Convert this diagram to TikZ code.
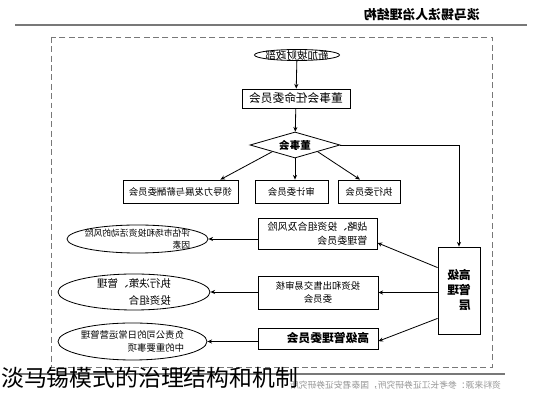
\documentclass[tikz,border=0pt]{standalone}
\usepackage{fontspec}
\setmainfont{Noto Sans CJK SC}
\usetikzlibrary{arrows.meta,shapes.geometric}
\definecolor{framegray}{RGB}{120,120,120}
\definecolor{srcgray}{RGB}{150,150,150}

\begin{document}
\begin{tikzpicture}[x=0.03cm, y=-0.03cm, font=\fontsize{8}{11}\selectfont,
      bx/.style={rectangle, draw, line width=0.7pt, inner sep=1pt},
      ov/.style={ellipse, draw, line width=0.7pt, inner sep=0pt},
      ar/.style={-{Stealth[length=4pt,width=3.5pt]}, line width=0.7pt}]
    \fill[white] (0,0) rectangle (546,400);
    \draw[framegray, line width=1.2pt] (15,25) -- (527,25);
    \draw[framegray, dash pattern=on 5pt off 3pt, line width=0.8pt] (51,37) rectangle (492,367);
    \draw[framegray, line width=1pt] (15,374) -- (505,374);
    % the scanned chart is printed mirror-wise: draw it as it reads, then flip
    \begin{scope}[shift={(546,0)}, xscale=-1, every node/.append style={transform shape}]
      \node[anchor=west, font=\bfseries\fontsize{11}{12}\selectfont] (hdr) at (62,15) {淡马锡法人治理结构};
      % top of the structure
      \node[ov, minimum width=2.55cm, minimum height=0.33cm] (mof) at (249,55) {};
      \node[font=\fontsize{9}{10}\selectfont, inner sep=0pt] (mofT) at (mof) {新加坡财政部};
      \node[bx, minimum width=3.24cm, minimum height=0.57cm, font=\fontsize{10}{11}\selectfont] (appt) at (250,98.5) {董事会任命委员会};
      \node[diamond, draw, line width=0.7pt, aspect=3.5, inner sep=0pt, minimum width=2.7cm, minimum height=0.78cm,
            font=\bfseries\fontsize{9}{10}\selectfont] (board) at (251,145) {董事会};
      \node[bx, minimum width=3.45cm, minimum height=0.69cm] (ldcc)  at (365.5,191.5) {领导力发展与薪酬委员会};
      \node[bx, minimum width=2.19cm, minimum height=0.69cm] (audit) at (254.5,191.5) {审计委员会};
      \node[bx, minimum width=1.86cm, minimum height=0.69cm] (exco)  at (177,191.5) {执行委员会};
      % senior management and its committees
      \node[bx, minimum width=1.26cm, minimum height=2.61cm, align=left, font=\bfseries\fontsize{10}{12.8}\selectfont] (senior) at (87,290.5) {高级\\管理\\层};
      \node[bx, minimum width=3.57cm, minimum height=0.93cm, align=left, font=\fontsize{8.5}{12}\selectfont] (spr) at (228.5,233.5) {战略、投资组合及风险\\管理委员会};
      \node[bx, minimum width=3.6cm, minimum height=0.99cm, align=center, font=\fontsize{8}{11}\selectfont] (inv) at (228,292.5) {投资和出售交易审核\\委员会};
      \node[bx, minimum width=3.6cm, minimum height=0.63cm, font=\bfseries\fontsize{10}{11}\selectfont] (smc) at (228,338.5) {高级管理委员会\hspace*{0.6cm}};
      % their tasks
      \node[ov, minimum width=4.23cm, minimum height=0.84cm] (eA) at (408.5,239) {};
      \node[ov, minimum width=4.56cm, minimum height=1.08cm] (eB) at (412,292) {};
      \node[ov, minimum width=4.47cm, minimum height=1.11cm] (eC) at (413.5,341.5) {};
      \node[align=left, font=\fontsize{7.5}{10.5}\selectfont, inner sep=0pt] (eAT) at (eA) {评估市场和投资活动的风险\\因素};
      \node[align=left, font=\fontsize{9}{14}\selectfont, inner sep=0pt] (eBT) at (eB) {执行决策、管理\\投资组合};
      \node[align=left, font=\fontsize{8}{11.5}\selectfont, inner sep=0pt] (eCT) at (eC) {负责公司的日常运营管理\\中的重要事项};
      % connectors
      \draw[ar] (mof) -- (appt);
      \draw[ar] (appt) -- (board);
      \draw[ar] (board.south east) -- ([xshift=0.54cm]ldcc.north west);
      \draw[ar] (board.south) -- (board.south |- audit.north);
      \draw[ar] (board.south west) -- ([xshift=0.27cm]exco.north);
      \draw[ar] (board.west) -| (senior.north);
      \draw[ar] ([yshift=-0.63cm]senior.north east) -- ([yshift=-0.28cm]spr.west);
      \draw[ar] (inv.west -| senior.east) -- (inv.west);
      \draw[ar] ([yshift=0.48cm]senior.south east) -- ([yshift=-0.08cm]smc.west);
      \draw[ar] (eA.west -| spr.east) -- (eA.west);
      \draw[ar] (eB.west -| inv.east) -- (eB.west);
      \draw[ar] (eC.west -| smc.east) -- (eC.west);
      \node[anchor=west, text=srcgray, font=\fontsize{7.5}{9}\selectfont] (src) at (41,385) {资料来源：参考长江证券研究所，国泰君安证券研究所};
    \end{scope}
    \node[anchor=west, inner sep=0pt, font=\fontsize{19.5}{20}\selectfont] (cap) at (1,378) {淡马锡模式的治理结构和机制};
\end{tikzpicture}
\end{document}
